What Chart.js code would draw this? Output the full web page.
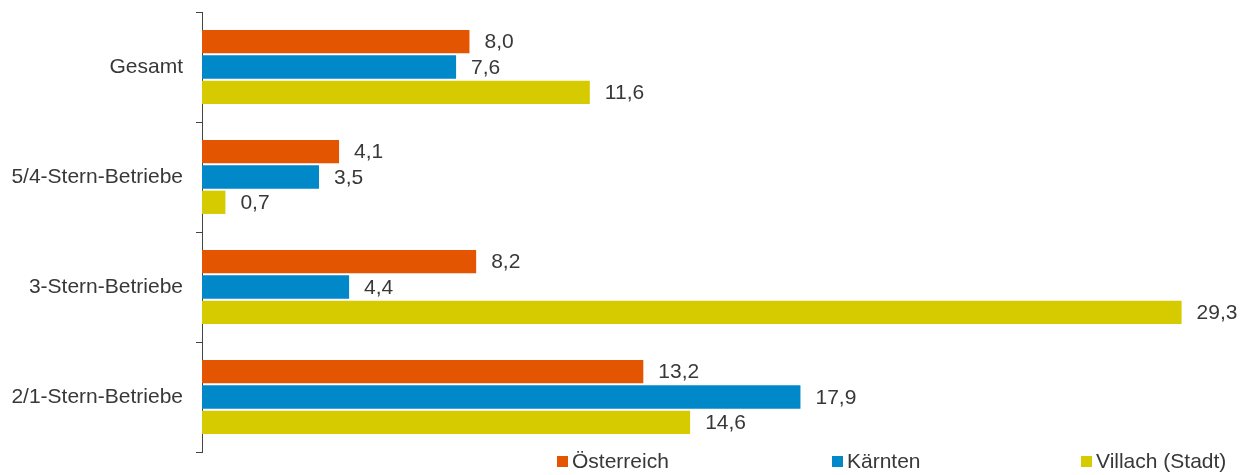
<!DOCTYPE html>
<html>
<head>
<meta charset="utf-8">
<script src="https://cdn.jsdelivr.net/npm/chart.js@4/dist/chart.umd.min.js"></script>
<style>
  html, body { margin: 0; padding: 0; background: #fff; }
  #wrap { width: 1250px; height: 475px; }
</style>
</head>
<body>
<div id="wrap"><canvas id="barChart"></canvas></div>
<script>
var categories = ['Gesamt', '5/4-Stern-Betriebe', '3-Stern-Betriebe', '2/1-Stern-Betriebe'];
var seriesNames = ['Österreich', 'Kärnten', 'Villach (Stadt)'];
var oesterreich = [8.0, 4.1, 8.2, 13.2];
var kaernten = [7.6, 3.5, 4.4, 17.9];
var villach = [11.6, 0.7, 29.3, 14.6];

var colors = ['#E35500', '#0088C8', '#D6CB00'];
var textColor = '#383838';
var fontFamily = '"Liberation Sans", Arial, sans-serif';

// value labels right of each bar, german decimal comma
var valueLabels = {
    id: 'valueLabels',
    afterDatasetsDraw: function (chart) {
        var c = chart.ctx;
        c.save();
        c.font = '21px ' + fontFamily;
        c.fillStyle = textColor;
        c.textBaseline = 'middle';
        c.textAlign = 'left';
        chart.data.datasets.forEach(function (ds, i) {
            chart.getDatasetMeta(i).data.forEach(function (bar, j) {
                c.fillText(ds.data[j].toFixed(1).replace('.', ','), bar.x + 15, bar.y + 1);
            });
        });
        c.restore();
    }
};

// legend spread out along the bottom like the original
var bottomLegend = {
    id: 'bottomLegend',
    afterDraw: function (chart) {
        var c = chart.ctx;
        var xs = [557, 832, 1081];
        var y = 461;
        c.save();
        c.font = '21px ' + fontFamily;
        c.textBaseline = 'middle';
        c.textAlign = 'left';
        chart.data.datasets.forEach(function (ds, i) {
            c.fillStyle = ds.backgroundColor;
            c.fillRect(xs[i], y - 5, 11, 11);
            c.fillStyle = textColor;
            c.fillText(ds.label, xs[i] + 15, y + 1);
        });
        c.restore();
    }
};

var ctx = document.getElementById('barChart').getContext('2d');
var myChart = new Chart(ctx, {
    type: 'bar',
    data: {
        labels: categories,
        datasets: [
            { label: seriesNames[0], data: oesterreich, backgroundColor: colors[0] },
            { label: seriesNames[1], data: kaernten, backgroundColor: colors[1] },
            { label: seriesNames[2], data: villach, backgroundColor: colors[2] }
        ]
    },
    options: {
        indexAxis: 'y',
        responsive: true,
        maintainAspectRatio: false,
        animation: false,
        layout: { padding: { top: 12, right: 45, bottom: 23, left: 0 } },
        datasets: {
            bar: { categoryPercentage: 0.69, barPercentage: 0.92, borderWidth: 0 }
        },
        plugins: {
            legend: { display: false },
            tooltip: { enabled: false }
        },
        scales: {
            x: { display: false, min: 0, max: 30 },
            y: {
                offset: true,
                afterFit: function (scale) {
                    scale.width = 202;
                    scale.paddingTop = 0;
                    scale.paddingBottom = 0;
                },
                border: { display: true, color: '#444', width: 1 },
                grid: {
                    offset: true,
                    drawOnChartArea: false,
                    drawTicks: true,
                    tickLength: 6,
                    color: '#444'
                },
                ticks: {
                    padding: 13,
                    color: textColor,
                    font: { family: fontFamily, size: 21 }
                }
            }
        }
    },
    plugins: [valueLabels, bottomLegend]
});
</script>
</body>
</html>
